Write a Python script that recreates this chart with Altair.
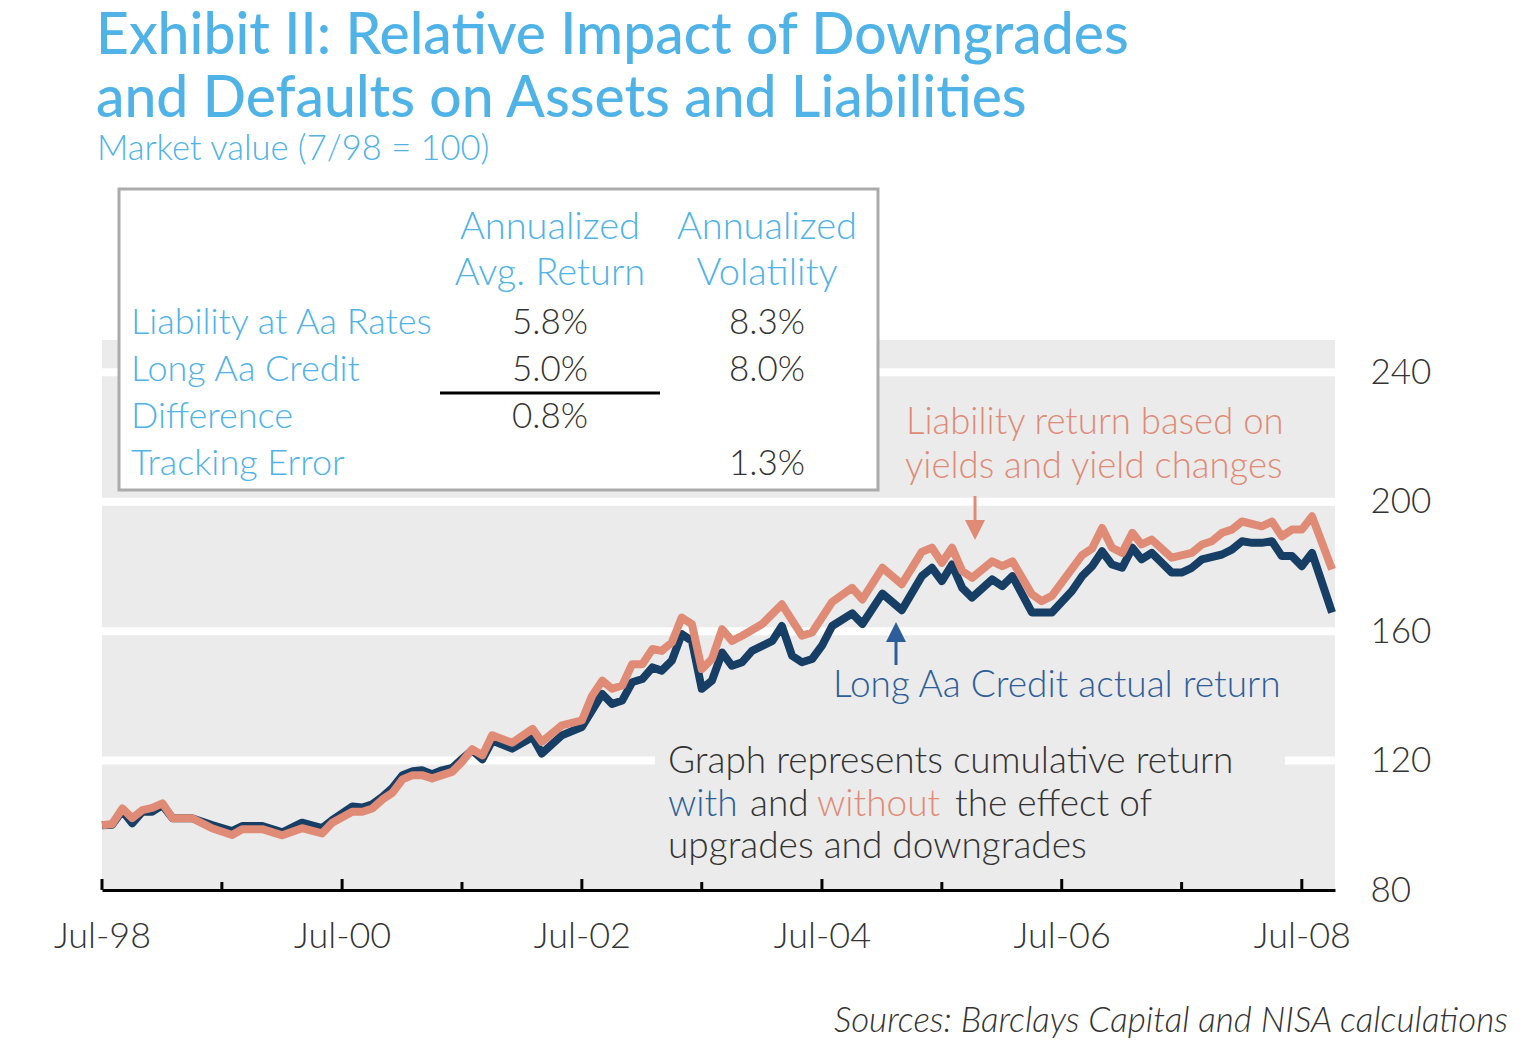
import altair as alt
import pandas as pd

# ---------------- data ----------------
liab_dates = [
    "1998-07", "1998-08", "1998-09", "1998-10", "1998-11", "1998-12", "1999-01", "1999-02",
    "1999-04", "1999-06", "1999-08", "1999-09", "1999-11", "2000-01", "2000-03", "2000-05",
    "2000-06", "2000-08", "2000-09", "2000-10", "2000-11", "2000-12", "2001-01", "2001-02",
    "2001-03", "2001-04", "2001-05", "2001-06", "2001-07", "2001-08", "2001-09", "2001-10",
    "2001-12", "2002-02", "2002-03", "2002-05", "2002-07", "2002-08", "2002-09", "2002-10",
    "2002-11", "2002-12", "2003-01", "2003-02", "2003-03", "2003-04", "2003-05", "2003-06",
    "2003-07", "2003-08", "2003-09", "2003-10", "2003-11", "2004-01", "2004-03", "2004-05",
    "2004-06", "2004-08", "2004-10", "2004-11", "2005-01", "2005-03", "2005-05", "2005-06",
    "2005-07", "2005-08", "2005-09", "2005-10", "2005-12", "2006-01", "2006-02", "2006-04",
    "2006-05", "2006-06", "2006-09", "2006-10", "2006-11", "2006-12", "2007-01", "2007-02",
    "2007-03", "2007-04", "2007-06", "2007-08", "2007-09", "2007-10", "2007-11", "2007-12",
    "2008-01", "2008-03", "2008-04", "2008-05", "2008-06", "2008-07", "2008-08", "2008-10",
]
liab_values = [
    100.0, 100.4, 105.2, 102.2, 104.7, 105.4, 106.8, 102.2,
    102.2, 99.1, 97.0, 98.8, 98.8, 96.9, 99.1, 97.5,
    100.8, 104.2, 104.2, 105.2, 108.0, 110.0, 114.2, 115.5,
    115.5, 114.5, 115.5, 116.5, 119.6, 123.5, 121.6, 127.8,
    125.5, 129.8, 125.8, 130.9, 132.4, 140.0, 144.7, 142.2,
    143.2, 149.8, 149.8, 154.5, 153.9, 156.5, 164.2, 162.2,
    148.3, 151.4, 160.6, 157.0, 158.6, 162.2, 168.3, 158.6,
    159.6, 169.0, 173.4, 169.8, 179.6, 174.5, 184.5, 185.8,
    181.1, 185.8, 178.6, 176.5, 181.6, 180.1, 181.6, 171.4,
    169.3, 170.9, 183.5, 185.5, 191.9, 185.8, 184.2, 190.4,
    186.8, 188.3, 182.7, 184.2, 186.8, 187.8, 190.4, 191.4,
    193.9, 192.4, 193.9, 189.3, 191.4, 191.4, 195.5, 179.1,
]

asset_dates = [
    "1998-07", "1998-08", "1998-09", "1998-10", "1998-11", "1998-12", "1999-01", "1999-02",
    "1999-04", "1999-06", "1999-08", "1999-09", "1999-11", "2000-01", "2000-03", "2000-05",
    "2000-06", "2000-08", "2000-09", "2000-10", "2000-11", "2000-12", "2001-01", "2001-02",
    "2001-03", "2001-04", "2001-05", "2001-06", "2001-07", "2001-08", "2001-09", "2001-10",
    "2001-12", "2002-02", "2002-03", "2002-05", "2002-07", "2002-08", "2002-09", "2002-10",
    "2002-11", "2002-12", "2003-01", "2003-02", "2003-03", "2003-04", "2003-05", "2003-06",
    "2003-07", "2003-08", "2003-09", "2003-10", "2003-11", "2003-12", "2004-02", "2004-03",
    "2004-04", "2004-05", "2004-06", "2004-07", "2004-08", "2004-10", "2004-11", "2005-01",
    "2005-03", "2005-05", "2005-06", "2005-07", "2005-08", "2005-09", "2005-10", "2005-12",
    "2006-01", "2006-02", "2006-04", "2006-06", "2006-08", "2006-09", "2006-10", "2006-11",
    "2006-12", "2007-01", "2007-02", "2007-03", "2007-04", "2007-06", "2007-07", "2007-08",
    "2007-09", "2007-11", "2007-12", "2008-01", "2008-02", "2008-03", "2008-04", "2008-05",
    "2008-06", "2008-07", "2008-08", "2008-10",
]
asset_values = [
    100.0, 100.2, 104.5, 100.6, 104.2, 104.2, 106.2, 102.2,
    102.2, 100.1, 98.2, 99.8, 99.8, 97.8, 100.8, 99.1,
    101.6, 105.8, 105.5, 106.5, 108.8, 111.5, 115.5, 116.7,
    117.0, 115.8, 117.0, 117.7, 120.5, 123.2, 120.4, 126.2,
    123.7, 127.3, 122.2, 127.8, 130.4, 135.5, 140.6, 137.5,
    138.6, 144.2, 145.2, 148.8, 147.8, 150.9, 159.1, 157.0,
    142.2, 144.7, 153.4, 149.3, 150.4, 153.9, 157.0, 161.6,
    152.4, 150.4, 151.4, 155.5, 161.6, 165.5, 162.2, 171.6,
    166.5, 177.0, 179.6, 175.5, 180.6, 173.4, 170.4, 176.0,
    173.9, 177.0, 165.8, 165.8, 172.4, 177.0, 180.0, 184.7,
    180.6, 179.6, 185.8, 182.2, 184.2, 178.1, 178.1, 179.6,
    182.2, 183.7, 185.2, 187.8, 187.3, 187.3, 187.8, 183.2,
    183.2, 180.1, 184.2, 165.8,
]

y_tick_values = [80, 120, 160, 200, 240]
grid_values = [120, 160, 200, 240]
x_label_dates = ["1998-07", "2000-07", "2002-07", "2004-07", "2006-07", "2008-07"]
x_minor_dates = ["1999-07", "2001-07", "2003-07", "2005-07", "2007-07"]

table_headers = [["Annualized", "Avg. Return"], ["Annualized", "Volatility"]]
row_labels = ["Liability at Aa Rates", "Long Aa Credit", "Difference", "Tracking Error"]
avg_returns = ["5.8%", "5.0%", "0.8%", ""]
volatilities = ["8.3%", "8.0%", "", "1.3%"]

title_lines = ["Exhibit II: Relative Impact of Downgrades", "and Defaults on Assets and Liabilities"]
subtitle = "Market value (7/98  =  100)"
source_note = "Sources: Barclays Capital and NISA calculations"

# ---------------- styling ----------------
FONT = "Lato"
BLUE_T = "#4FB3E8"
NAVY = "#173F66"
NAVY_T = "#2D5E9A"
SALMON = "#E08B76"
DARK = "#333333"
BG = "#EBEBEB"

# page layout: plot area spans page x 102..1335, y 340..890
PX0, PY0 = 102, 340
W, H = 1233, 550


def to_dt(s):
    return pd.to_datetime(s + "-01")


def dt(s):
    y, m = s.split("-")
    return alt.DateTime(year=int(y), month=int(m), date=1)


liab = pd.DataFrame({"date": [to_dt(d) for d in liab_dates], "value": liab_values})
asset = pd.DataFrame({"date": [to_dt(d) for d in asset_dates], "value": asset_values})
one = pd.DataFrame({"a": [0]})

x_scale = alt.Scale(domain=[dt("1998-07"), alt.DateTime(year=2008, month=10, date=10)])
y_scale = alt.Scale(domain=[80, 250], nice=False, zero=False)

x_axis = alt.Axis(
    values=[dt(d) for d in x_label_dates], format="%b-%y", title=None,
    ticks=False, grid=False, domain=True, domainColor="black", domainWidth=3,
    labelFont=FONT, labelFontSize=36, labelColor=DARK, labelPadding=29, labelFontWeight=300,
    labelFlush=False, labelOverlap=False,
)
y_axis = alt.Axis(
    orient="right", values=y_tick_values, title=None, ticks=False, grid=False, domain=False,
    labelFont=FONT, labelFontSize=35, labelColor=DARK, labelPadding=35, labelFontWeight=300,
)


def txt(text, x, y, size=36, color=DARK, align="left", weight=300, style="normal", baseline="middle"):
    return alt.Chart(one).mark_text(
        text=text, font=FONT, fontSize=size, color=color, align=align, baseline=baseline,
        fontWeight=weight, fontStyle=style,
    ).encode(x=alt.value(x - PX0), y=alt.value(y - PY0))


def box(x1, y1, x2, y2, fill, stroke=None, sw=0):
    kw = dict(fill=fill)
    if stroke:
        kw.update(stroke=stroke, strokeWidth=sw)
    return alt.Chart(one).mark_rect(**kw).encode(
        x=alt.value(x1 - PX0), x2=alt.value(x2 - PX0), y=alt.value(y1 - PY0), y2=alt.value(y2 - PY0)
    )


def hline(x1, x2, y, color, sw):
    return alt.Chart(one).mark_rule(color=color, strokeWidth=sw).encode(
        x=alt.value(x1 - PX0), x2=alt.value(x2 - PX0), y=alt.value(y - PY0)
    )


def vline(x, y1, y2, color, sw):
    return alt.Chart(one).mark_rule(color=color, strokeWidth=sw).encode(
        x=alt.value(x - PX0), y=alt.value(y1 - PY0), y2=alt.value(y2 - PY0)
    )


def tri(x, y, color, down=True, s=20):
    shape = "M-1,-1L1,-1L0,1Z" if down else "M-1,1L1,1L0,-1Z"
    return alt.Chart(one).mark_point(shape=shape, filled=True, size=s * s, color=color, opacity=1).encode(
        x=alt.value(x - PX0), y=alt.value(y - PY0)
    )


# axes carrier + gridlines
grid = alt.Chart(pd.DataFrame({"v": grid_values})).mark_rule(color="white", strokeWidth=8).encode(
    y=alt.Y("v:Q", scale=y_scale, axis=y_axis)
)

axis_carrier = alt.Chart(liab).mark_line(opacity=0).encode(
    x=alt.X("date:T", scale=x_scale, axis=x_axis),
    y=alt.Y("value:Q", scale=y_scale, axis=y_axis),
)

major_ticks = alt.Chart(pd.DataFrame({"date": [to_dt(d) for d in x_label_dates]})).mark_rule(
    color="black", strokeWidth=3
).encode(x=alt.X("date:T", scale=x_scale), y=alt.value(H), y2=alt.value(H - 11))
minor_ticks = alt.Chart(pd.DataFrame({"date": [to_dt(d) for d in x_minor_dates]})).mark_rule(
    color="black", strokeWidth=3
).encode(x=alt.X("date:T", scale=x_scale), y=alt.value(H), y2=alt.value(H - 8))

asset_line = alt.Chart(asset).mark_line(color=NAVY, strokeWidth=8, strokeJoin="round").encode(
    x=alt.X("date:T", scale=x_scale), y=alt.Y("value:Q", scale=y_scale)
)
liab_line = alt.Chart(liab).mark_line(color=SALMON, strokeWidth=8, strokeJoin="round").encode(
    x=alt.X("date:T", scale=x_scale), y=alt.Y("value:Q", scale=y_scale)
)

layers = [grid, box(655, 750, 1285, 775, BG), axis_carrier, major_ticks, minor_ticks, asset_line, liab_line]

# titles
layers += [
    txt(title_lines[0], 96, 54, size=57, color=BLUE_T, weight=500, baseline="alphabetic"),
    txt(title_lines[1], 96, 117, size=57, color=BLUE_T, weight=500, baseline="alphabetic"),
    txt(subtitle, 97, 160, size=34.5, color=BLUE_T, weight=300, baseline="alphabetic"),
]

# table
layers.append(box(119, 189, 878, 490, "white", stroke="#ABABAB", sw=3))
col_x = [550, 767]
for ci, hdr in enumerate(table_headers):
    for li, line in enumerate(hdr):
        layers.append(txt(line, col_x[ci], 228 + li * 46, size=38, color=BLUE_T, align="center"))
row_y = [323, 370, 417, 464]
for ri, lab in enumerate(row_labels):
    layers.append(txt(lab, 131, row_y[ri], size=36, color=BLUE_T))
    if avg_returns[ri]:
        layers.append(txt(avg_returns[ri], col_x[0], row_y[ri], size=35, align="center"))
    if volatilities[ri]:
        layers.append(txt(volatilities[ri], col_x[1], row_y[ri], size=35, align="center"))
layers.append(hline(440, 660, 393, "black", 3))

# annotations
layers += [
    txt("Liability return based on", 906, 423, size=36.5, color=SALMON),
    txt("yields and yield changes", 905, 467, size=36.5, color=SALMON),
    vline(975, 496, 522, SALMON, 3),
    tri(975, 530, SALMON, down=True),
    tri(896, 632, NAVY_T, down=False),
    vline(896, 640, 665, NAVY_T, 3),
    txt("Long Aa Credit actual return", 833, 686, size=37, color=NAVY_T),
    txt("Graph represents cumulative return", 668, 762, size=37),
    txt("with", 668, 805, size=37, color=NAVY_T),
    txt("and", 750, 805, size=37),
    txt("without", 817, 805, size=37, color=SALMON),
    txt("the effect of", 955, 805, size=37),
    txt("upgrades and downgrades", 668, 847, size=37),
    txt(source_note, 1508, 1021, size=35, align="right", style="italic"),
]

chart = alt.layer(*layers).properties(
    width=W, height=H,
    padding={"left": PX0 - 8, "top": PY0 - 8, "right": 190, "bottom": 150},
    autosize=alt.AutoSizeParams(type="none"),
).configure_view(fill=BG, strokeWidth=0)

chart.save("out.html", embed_options={"renderer": "svg", "actions": False})
